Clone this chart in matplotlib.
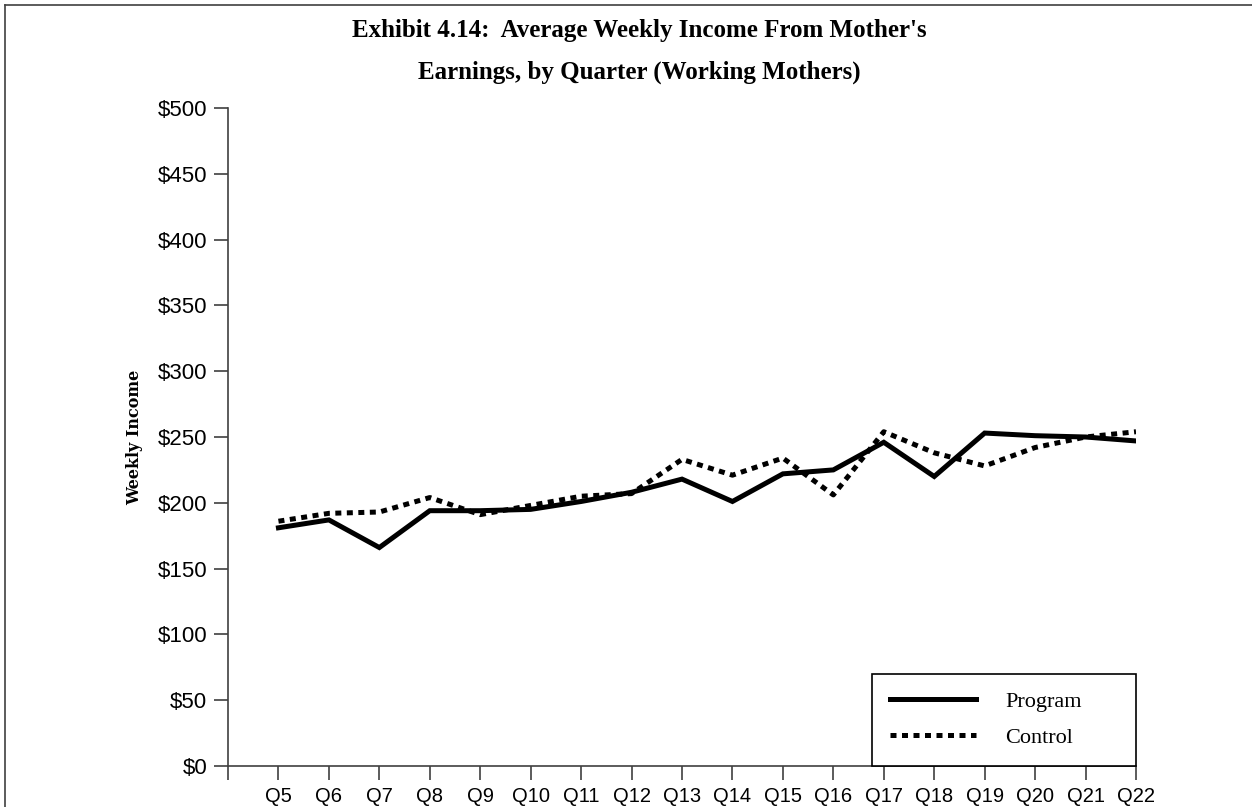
""" Weekly income from mother's earnings, program vs control,
    by quarter (working mothers). Exhibit 4.14 line chart.
"""

###########
# Imports #
###########
import matplotlib
matplotlib.use('Agg')
import matplotlib.pyplot as plt
from matplotlib.lines import Line2D


########
# Data #
########
quarters = ['Q5', 'Q6', 'Q7', 'Q8', 'Q9', 'Q10', 'Q11', 'Q12', 'Q13',
            'Q14', 'Q15', 'Q16', 'Q17', 'Q18', 'Q19', 'Q20', 'Q21', 'Q22']

program = [181, 187, 166, 194, 194, 195, 201, 208, 218,
           201, 222, 225, 246, 220, 253, 251, 250, 247]

control = [186, 192, 193, 204, 191, 198, 205, 207, 233,
           221, 234, 206, 254, 238, 228, 242, 250, 254]

yticks = [0, 50, 100, 150, 200, 250, 300, 350, 400, 450, 500]
title_lines = ["Exhibit 4.14:  Average Weekly Income From Mother's",
               "Earnings, by Quarter (Working Mothers)"]


############
# The plot #
############
W, H = 1252, 807
fig = plt.figure(figsize=(W / 100, H / 100), dpi=100)
ax = fig.add_axes([228 / W, 41 / H, (1136 - 228) / W, (766 - 108) / H])

x = list(range(len(quarters)))
ax.plot(x, program, color='black', lw=3.6, solid_joinstyle='miter',
        label='Program')
ax.plot(x, control, color='black', lw=3.6, linestyle=(0, (1.2, 1.1)),
        dash_capstyle='butt', label='Control')

ax.set_xlim(-1, len(quarters) - 1)
ax.set_ylim(0, 500)

ax.set_xticks(range(-1, len(quarters)))
ax.set_xticklabels([''] + quarters, fontsize=14.5, family='Liberation Sans')
ax.set_yticks(yticks)
ax.set_yticklabels(['$' + str(v) for v in yticks], fontsize=16,
                   family='Liberation Sans')

ax.tick_params(axis='both', direction='out', color='#404040', width=1.2,
               length=10)
ax.tick_params(axis='y', pad=5)
ax.tick_params(axis='x', pad=5)

for side in ['top', 'right']:
    ax.spines[side].set_visible(False)
for side in ['left', 'bottom']:
    ax.spines[side].set_color('#404040')
    ax.spines[side].set_linewidth(1.2)

# y label
fig.text(135 / W, 1 - 437 / H, 'Weekly Income', rotation=90,
         ha='center', va='center', fontsize=11.5, fontweight='bold',
         family='DejaVu Serif')

# Title
fig.text(639 / W, 1 - 30 / H, title_lines[0], ha='center', va='center',
         fontsize=18, fontweight='bold', family='Liberation Serif')
fig.text(639 / W, 1 - 72 / H, title_lines[1], ha='center', va='center',
         fontsize=18, fontweight='bold', family='Liberation Serif')

# Legend, stretched to the box width of the original
leg = ax.legend(loc='lower left', bbox_to_anchor=(0.7093, 0, 0.2907, 0.1),
                mode='expand', borderaxespad=0,
                prop={'family': 'Liberation Serif', 'size': 16},
                handlelength=3.9, handletextpad=1.3, borderpad=0.8,
                labelspacing=0.7, fancybox=False, framealpha=1,
                edgecolor='black')
leg.get_frame().set_linewidth(1.2)

# Outer border (top and left edges visible)
fig.add_artist(Line2D([5 / W, 5 / W], [0, 1 - 5 / H], color='#404040',
                      lw=1.2, transform=fig.transFigure))
fig.add_artist(Line2D([5 / W, 1], [1 - 5 / H, 1 - 5 / H], color='#404040',
                      lw=1.2, transform=fig.transFigure))

plt.savefig('out.png', dpi=100)
plt.close()
